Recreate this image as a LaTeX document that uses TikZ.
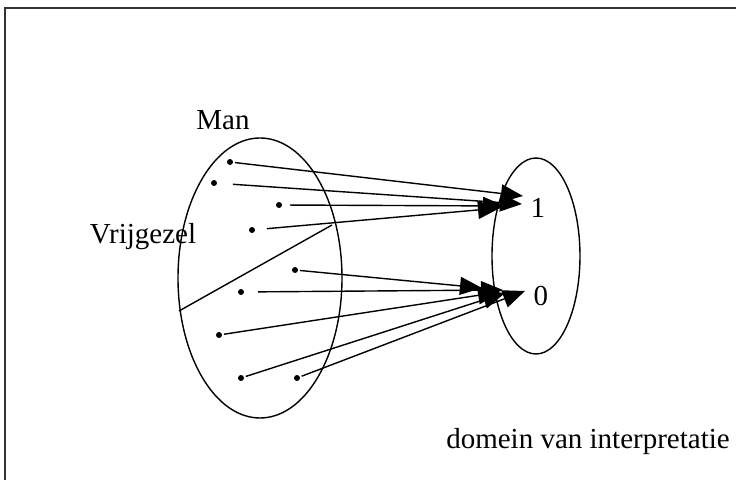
\documentclass[tikz,border=0pt]{standalone}
\usepackage{fontspec}
\setmainfont{Liberation Serif}
\usetikzlibrary{arrows.meta,positioning}

\tikzset{
  dot/.style={circle,fill=black,inner sep=0pt,minimum size=3pt,outer sep=5pt},
  map/.style={line width=0.7pt,-{Triangle[length=11pt,width=9pt]}},
  lbl/.style={font=\fontsize{14.5}{17}\selectfont,inner sep=0pt}
}

\begin{document}
\begin{tikzpicture}[x=0.5pt,y=-0.5pt,line width=0.7pt]
  \useasboundingbox (0,0) rectangle (736,480);
  % frame
  \draw[line width=1pt,black!80] (5,480) -- (5,8.5) -- (736,8.5);

  % sets
  \draw (260,278) ellipse [x radius=82,y radius=140];
  \draw (536,256) ellipse [x radius=44,y radius=98];
  \coordinate (vl) at (179,311);
  \coordinate (vr) at (332,225);
  \draw (vl) -- (vr);

  % labels
  \node[lbl] (man) at (223,120) {Man};
  \node[lbl] (vrij) at (143,237) {Vrijgezel};
  \node[lbl] (een) at (538,208) {1};
  \node[lbl] (nul) at (541,296) {0};
  \node[lbl] (dom) at (588,442) {domein van interpretatie};

  % elements
  \node[dot,outer sep=1pt] (p1) at (230,162) {};
  \node[dot,outer sep=8pt] (p2) at (214,183) {};
  \node[dot,outer sep=4pt] (p3) at (279,205) {};
  \node[dot,outer sep=6pt] (p4) at (252,230) {};
  \node[dot,outer sep=1pt] (p5) at (295,270) {};
  \node[dot,outer sep=7pt] (p6) at (241,292) {};
  \node[dot,outer sep=1pt] (p7) at (219,335) {};
  \node[dot,outer sep=1pt] (p8) at (241,378) {};
  \node[dot,outer sep=1pt] (p9) at (297,378) {};

  % arrow tips
  \coordinate (a1) at (523,196);
  \coordinate (a2) at (522,204);
  \coordinate (a3) at (505,206);
  \coordinate (a4) at (500,208);
  \coordinate (b5) at (482,288);
  \coordinate (b6) at (503,290);
  \coordinate (b7) at (500,292);
  \coordinate (b8) at (505,293);
  \coordinate (b9) at (525,291);

  % mapping
  \draw[map] (p1) -- (a1);
  \draw[map] (p2) -- (a2);
  \draw[map] (p3) -- (a3);
  \draw[map] (p4) -- (a4);
  \draw[map] (p5) -- (b5);
  \draw[map] (p6) -- (b6);
  \draw[map] (p7) -- (b7);
  \draw[map] (p8) -- (b8);
  \draw[map] (p9) -- (b9);
\end{tikzpicture}
\end{document}
